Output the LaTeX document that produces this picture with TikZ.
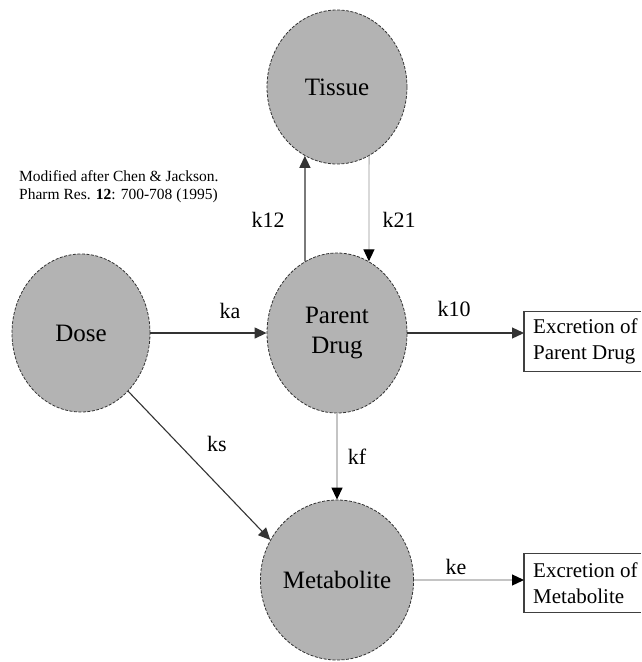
\documentclass[tikz,border=0pt]{standalone}
\usepackage{fontspec}
\setmainfont{Liberation Serif}
\usetikzlibrary{arrows.meta,shapes.geometric}
\definecolor{compfill}{HTML}{B3B3B3}
\definecolor{lightline}{HTML}{C4C4C4}
\begin{document}
\begin{tikzpicture}[x=1pt,y=-1pt,
  comp/.style={ellipse,fill=compfill,draw=black!80,dashed,dash pattern=on 3pt off 1.5pt,line width=0.8pt,inner sep=0pt,font=\fontsize{25}{30}\selectfont,align=center},
  lab/.style={font=\fontsize{22}{24}\selectfont,inner sep=0pt},
  flow/.style={-{Triangle[length=12pt,width=11pt]},line width=1.3pt,draw=black!80},
  lflow/.style={-{Triangle[length=12pt,width=11pt,color=black,fill=black]},line width=1.3pt,draw=lightline},
  outbox/.style={anchor=west,minimum height=59pt,inner xsep=9pt,inner ysep=0pt,align=left,font=\fontsize{21}{26}\selectfont}
]
\useasboundingbox (0,0) rectangle (641,662);
\coordinate (R) at (641,0);
\node[comp,minimum width=140pt,minimum height=154pt] (T) at (337,87) {Tissue};
\node[comp,minimum width=138pt,minimum height=158pt] (D) at (81,333) {Dose};
\node[comp,minimum width=140pt,minimum height=160pt] (P) at (337,333) {Parent\\Drug};
\node[comp,minimum width=136pt,minimum height=160pt] (M) at (337,580) {Metabolite};

\node[outbox] (B1) at (524,341.5) {Excretion of\\Parent Drug};
\node[outbox] (B2) at (524,583) {Excretion of\\Metabolite};
\draw[line width=1.1pt,draw=black!75] (B1.north west -| R) -- (B1.north west) -- (B1.south west) -- (B1.south west -| R);
\draw[line width=1.1pt,draw=black!75] (B2.north west -| R) -- (B2.north west) -- (B2.south west) -- (B2.south west -| R);

\node[anchor=west,align=left,inner sep=0pt,font=\fontsize{15.5}{18}\selectfont] (cite) at (19,187)
  {Modified after Chen \& Jackson.\\Pharm Res. \textbf{12}: 700-708 (1995)};

\draw[flow] (D.east) -- (P.west);
\draw[flow] (P.114) -- (T.245);
\draw[lflow] (T.295) -- (P.66);
\draw[flow] (P.east) -- (P.east -| B1.west);
\draw[flow,line width=1.1pt] (D.-51) -- (M.149);
\draw[lflow] (P.south) -- (M.north);
\draw[lflow] (M.east) -- (M.east -| B2.west);

\node[lab] (lka) at (230,311) {ka};
\node[lab] (lk12) at (268,220) {k12};
\node[lab] (lk21) at (399,220) {k21};
\node[lab] (lk10) at (454,309) {k10};
\node[lab] (lks) at (217,444) {ks};
\node[lab] (lkf) at (357,457) {kf};
\node[lab] (lke) at (456,567) {ke};
\end{tikzpicture}
\end{document}
